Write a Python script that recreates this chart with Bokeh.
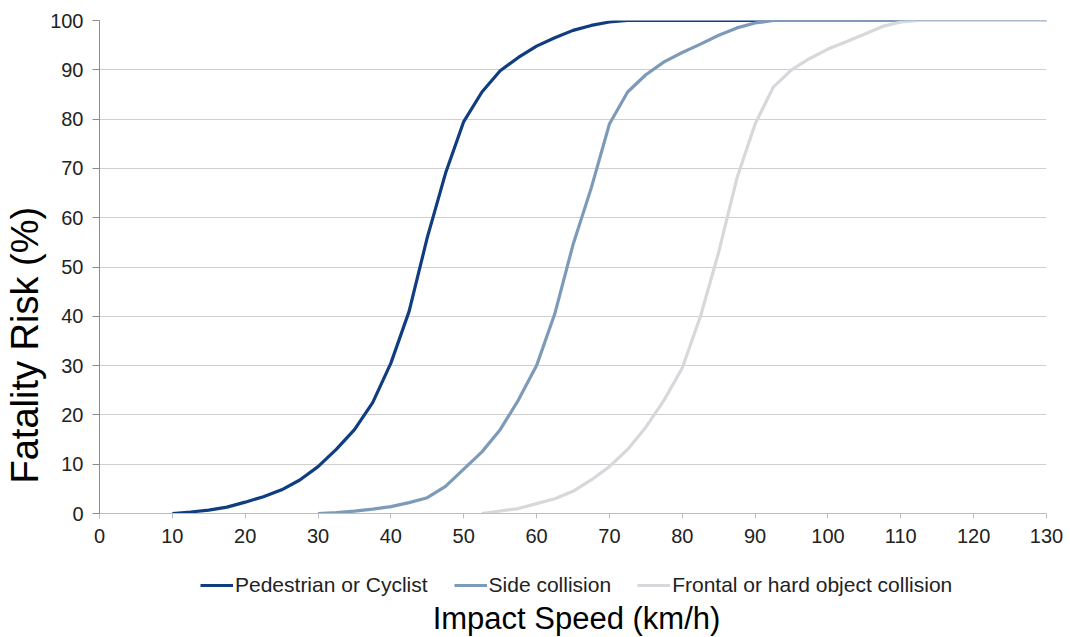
from bokeh.plotting import figure
from bokeh.layouts import column
from bokeh.models import Legend, LegendItem, Title, Label, Range1d, FixedTicker
from bokeh.embed import file_html
from bokeh.resources import INLINE

# ---- data ----
speed_ped = [10, 12.5, 15, 17.5, 20, 22.5, 25, 27.5, 30, 32.5, 35, 37.5, 40, 42.5, 45,
             47.5, 50, 52.5, 55, 57.5, 60, 62.5, 65, 67.5, 70, 72.5, 75, 130]
risk_ped = [0, 0.3, 0.7, 1.3, 2.3, 3.4, 4.8, 6.8, 9.5, 13, 17, 22.5, 30.5, 41, 56,
            69, 79.5, 85.5, 89.8, 92.5, 94.8, 96.5, 98, 99, 99.7, 100, 100, 100]

speed_side = [30, 32.5, 35, 37.5, 40, 42.5, 45, 47.5, 50, 52.5, 55, 57.5, 60, 62.5, 65,
              67.5, 70, 72.5, 75, 77.5, 80, 82.5, 85, 87.5, 90, 92.5, 130]
risk_side = [0, 0.2, 0.5, 0.9, 1.4, 2.2, 3.2, 5.5, 9, 12.5, 17, 23, 30, 40.5, 54.5,
             66, 79, 85.5, 89, 91.6, 93.5, 95.2, 97, 98.5, 99.5, 100, 100]

speed_front = [52.5, 55, 57.5, 60, 62.5, 65, 67.5, 70, 72.5, 75, 77.5, 80, 82.5, 85,
               87.5, 90, 92.5, 95, 97.5, 100, 102.5, 105, 107.5, 110, 112.5, 130]
risk_front = [0, 0.5, 1, 2, 3, 4.5, 6.8, 9.5, 13, 17.5, 23, 29.5, 40, 53,
              68, 79, 86.5, 90, 92.3, 94.2, 95.7, 97.2, 98.8, 99.7, 100, 100]

series_names = ["Pedestrian or Cyclist", "Side collision", "Frontal or hard object collision"]
x_ticks = [0, 10, 20, 30, 40, 50, 60, 70, 80, 90, 100, 110, 120, 130]
y_ticks = [0, 10, 20, 30, 40, 50, 60, 70, 80, 90, 100]
x_title = "Impact Speed (km/h)"
y_title = "Fatality Risk (%)"

colors = ["#0f3d7f", "#7d9bb9", "#d6d8db"]
FONT = "Liberation Sans"
LW = 3.2
series = [(speed_ped, risk_ped), (speed_side, risk_side), (speed_front, risk_front)]

# ---------------- main chart ----------------
p = figure(frame_width=947, frame_height=493, output_backend="svg", toolbar_location=None,
           x_range=Range1d(0, 130), y_range=Range1d(0, 100),
           min_border_left=99, min_border_right=24, min_border_top=20, min_border_bottom=40)
p.outline_line_color = None
p.background_fill_color = "white"
p.border_fill_color = "white"

for ax in (p.xaxis[0], p.yaxis[0]):
    ax.major_label_text_font = FONT
    ax.major_label_text_font_size = "20px"
    ax.major_label_text_color = "#222222"
    ax.minor_tick_line_color = None
    ax.major_tick_in = 0

p.xaxis.ticker = FixedTicker(ticks=x_ticks)
p.yaxis.ticker = FixedTicker(ticks=y_ticks)
p.xaxis.axis_line_color = "#bdbdbd"
p.xaxis.major_tick_line_color = "#bdbdbd"
p.xaxis.major_tick_out = 5
p.xaxis.major_label_standoff = 10
p.yaxis.axis_line_color = "#8c8c8c"
p.yaxis.major_tick_line_color = "#8c8c8c"
p.yaxis.major_tick_out = 7
p.yaxis.major_label_standoff = 9

p.xgrid.visible = False
p.ygrid.ticker = FixedTicker(ticks=y_ticks)
p.ygrid.grid_line_color = "#cfcfcf"
p.ygrid.grid_line_width = 1

for (xs, ys), c in zip(series, colors):
    p.line(xs, ys, line_color=c, line_width=LW)

yt = Title(text=y_title, align="left", offset=30, standoff=3,
           text_font=FONT, text_font_size="38px",
           text_font_style="normal", text_color="#000000")
p.add_layout(yt, "left")

# ---------------- legend + x title strip ----------------
p2 = figure(width=1070, height=84, output_backend="svg", toolbar_location=None,
            x_range=Range1d(0, 1), y_range=Range1d(0, 1),
            x_axis_location=None, y_axis_location=None,
            min_border_left=99, min_border_right=24, min_border_top=0, min_border_bottom=0)
p2.outline_line_color = None
p2.grid.visible = False
p2.background_fill_color = "white"
p2.border_fill_color = "white"

# hidden copies of the series, used only as legend keys
key_renderers = []
for (xs, ys), c in zip(series, colors):
    r = p2.line(xs, ys, line_color=c, line_width=LW)
    r.visible = False
    key_renderers.append(r)

legend = Legend(items=[LegendItem(label=n, renderers=[r]) for n, r in zip(series_names, key_renderers)],
                orientation="horizontal", location=(101, 40),
                glyph_width=33, glyph_height=24, label_height=24, label_standoff=2, spacing=26,
                padding=0, margin=0, border_line_alpha=0, background_fill_alpha=0,
                inactive_fill_alpha=0, click_policy="none",
                label_text_font=FONT, label_text_font_size="21px",
                label_text_color="#222222", label_text_baseline="middle")
p2.add_layout(legend)

p2.add_layout(Label(x=477, y=19, x_units="screen", y_units="screen", text=x_title,
                    text_align="center", text_baseline="middle",
                    text_font=FONT, text_font_size="31px", text_color="#000000"))

layout = column(p, p2, spacing=0)
open("out.html", "w").write(file_html(layout, INLINE))
